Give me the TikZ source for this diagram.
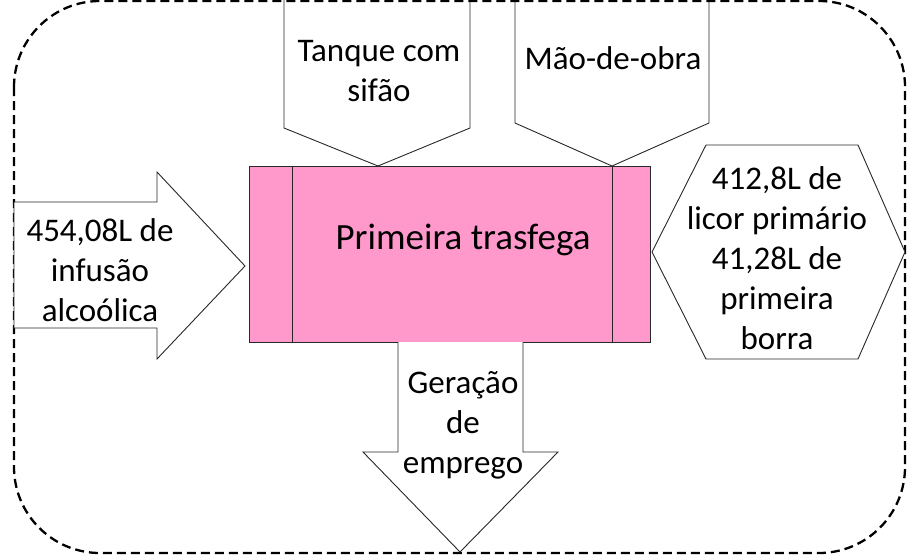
\documentclass[tikz,border=0pt]{standalone}
\usepackage{fontspec}
\setmainfont{Carlito}
\definecolor{pinkbox}{RGB}{255,153,204}
\definecolor{edge}{RGB}{40,40,40}
\begin{document}
\begin{tikzpicture}[x=1pt,y=-1pt,
  shapeline/.style={draw=edge,line width=0.9pt,fill=white,line join=miter},
  frameline/.style={draw=black,line width=2.3pt,dash pattern=on 9pt off 5pt},
  lbl/.style={align=center,font=\fontsize{33}{40}\selectfont,inner sep=0pt}]
\useasboundingbox (0,0) rectangle (908,555);
% top pentagons
\draw[shapeline] (284,0) -- (284,128) -- (378,166) -- (470,128) -- (470,0);
\draw[shapeline] (515,0) -- (515,123) -- (612,166) -- (709,123) -- (709,0);
% frame
\draw[frameline,rounded corners=86pt] (14,1) rectangle (905,553);
% left arrow
\draw[shapeline] (14,202) -- (157,202) -- (157,172) -- (245,266) -- (157,359) -- (157,328) -- (14,328) -- cycle;
% main box
\draw[edge,line width=0.9pt,fill=pinkbox] (249,166) rectangle (650,342);
\draw[edge,line width=0.9pt] (292,166) -- (292,342) (612,166) -- (612,342);
% hexagon
\draw[shapeline] (652,252) -- (706,145) -- (858,145) -- (905,252) -- (858,359) -- (706,359) -- cycle;
% down arrow
\draw[shapeline] (398,342) -- (398,452) -- (363,452) -- (460,552) -- (558,452) -- (523,452) -- (523,342);
% labels
\node[lbl] (tanque) at (379,71) {Tanque com\\sifão};
\node[lbl] (mao) at (613,58) {Mão-de-obra};
\node[lbl,font=\fontsize{37}{44}\selectfont] (main) at (463,240) {Primeira trasfega};
\node[lbl] (entrada) at (100,270) {454,08L de\\infusão\\alcoólica};
\node[lbl] (saida) at (777,258) {412,8L de\\licor primário\\41,28L de\\primeira\\borra};
\node[lbl] (emprego) at (463,425) {Geração\\de\\emprego};
\end{tikzpicture}
\end{document}
